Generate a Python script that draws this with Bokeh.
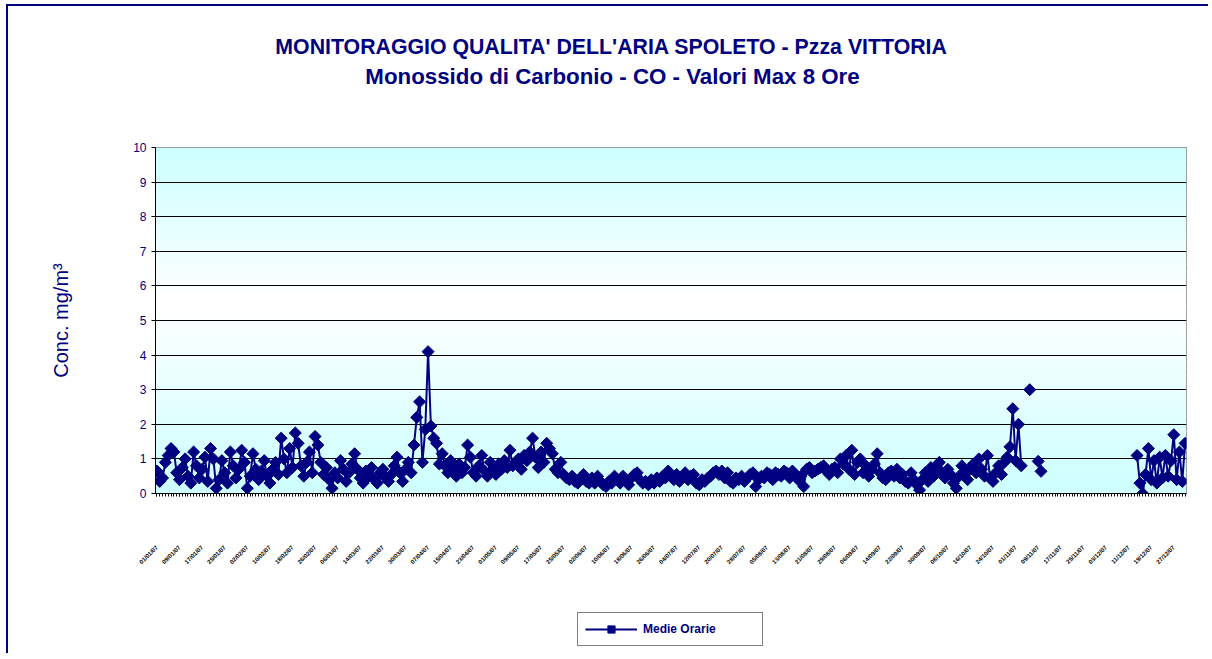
import math
import datetime
from bokeh.plotting import figure
from bokeh.layouts import column
from bokeh.models import (Range1d, FixedTicker, BoxAnnotation, Label, Legend,
                          LegendItem, ColumnDataSource)
from bokeh.embed import file_html
from bokeh.resources import INLINE

nan = float("nan")

# ---- data: daily max 8h CO (mg/m3) ----
co_max8h = [
    0.65, 0.35, 0.45, 0.9, 1.1, 1.3, 1.2, 0.6, 0.4, 0.75,
    1.0, 0.5, 0.3, 1.2, 0.8, 0.45, 0.7, 1.05, 0.35, 1.3,
    1.0, 0.15, 0.4, 0.95, 0.6, 0.3, 1.2, 0.8, 0.45, 0.7,
    1.25, 0.9, 0.15, 0.5, 1.15, 0.7, 0.4, 0.65, 0.95, 0.5,
    0.3, 0.7, 0.9, 0.55, 1.6, 1.0, 0.6, 1.3, 0.75, 1.75,
    1.45, 0.8, 0.5, 0.9, 1.2, 0.6, 1.65, 1.4, 0.9, 0.55,
    0.75, 0.4, 0.15, 0.6, 0.45, 0.95, 0.7, 0.35, 0.6, 0.85,
    1.15, 0.7, 0.45, 0.3, 0.65, 0.5, 0.75, 0.4, 0.3, 0.6,
    0.7, 0.45, 0.35, 0.55, 0.8, 1.05, 0.6, 0.35, 0.7, 0.9,
    0.6, 1.4, 2.2, 2.65, 0.9, 1.85, 4.1, 1.95, 1.6, 1.45,
    0.85, 1.15, 0.8, 0.6, 0.95, 0.7, 0.5, 0.85, 0.6, 0.75,
    1.4, 1.05, 0.6, 0.5, 0.8, 1.1, 0.65, 0.5, 0.9, 0.7,
    0.55, 0.85, 0.7, 0.95, 0.75, 1.25, 0.8, 0.9, 1.0, 0.7,
    1.1, 0.95, 1.2, 1.6, 1.05, 0.75, 1.2, 0.9, 1.45, 1.3,
    1.15, 0.7, 0.6, 0.9, 0.55, 0.45, 0.4, 0.5, 0.35, 0.3,
    0.4, 0.55, 0.35, 0.3, 0.45, 0.3, 0.5, 0.35, 0.25, 0.2,
    0.35, 0.3, 0.5, 0.4, 0.3, 0.5, 0.35, 0.25, 0.45, 0.55,
    0.6, 0.4, 0.3, 0.35, 0.25, 0.4, 0.3, 0.45, 0.35, 0.5,
    0.45, 0.65, 0.55, 0.4, 0.55, 0.35, 0.45, 0.6, 0.4, 0.5,
    0.55, 0.3, 0.25, 0.4, 0.35, 0.45, 0.5, 0.6, 0.65, 0.55,
    0.65, 0.45, 0.6, 0.35, 0.3, 0.45, 0.4, 0.5, 0.35, 0.45,
    0.55, 0.6, 0.2, 0.4, 0.5, 0.45, 0.6, 0.55, 0.4, 0.6,
    0.55, 0.5, 0.65, 0.6, 0.45, 0.65, 0.55, 0.4, 0.5, 0.2,
    0.7, 0.75, 0.6, 0.65, 0.7, 0.75, 0.8, 0.65, 0.55, 0.7,
    0.75, 0.6, 1.0, 0.85, 1.1, 0.7, 1.25, 0.55, 0.9, 1.0,
    0.6, 0.8, 0.5, 0.7, 0.85, 1.15, 0.6, 0.45, 0.4, 0.6,
    0.65, 0.5, 0.7, 0.45, 0.55, 0.35, 0.3, 0.6, 0.4, 0.25,
    0.1, 0.4, 0.6, 0.35, 0.75, 0.5, 0.8, 0.9, 0.6, 0.45,
    0.7, 0.55, 0.3, 0.15, 0.5, 0.8, 0.6, 0.4, 0.7, 0.85,
    0.6, 1.0, 0.7, 0.5, 1.1, 0.45, 0.35, 0.6, 0.8, 0.55,
    0.9, 1.05, 1.35, 2.45, 0.95, 2.0, 0.8, nan, nan, 3.0,
    nan, nan, 0.93, 0.64, nan, nan, nan, nan, nan, nan,
    nan, nan, nan, nan, nan, nan, nan, nan, nan, nan,
    nan, nan, nan, nan, nan, nan, nan, nan, nan, nan,
    nan, nan, nan, nan, nan, nan, nan,
    1.1, 0.3, 0.0, 0.55, 1.3, 0.4, 0.95, 0.3, 1.05, 0.45,
    1.1, 0.5, 0.95, 1.7, 0.4, 1.2, 0.35, 1.45,
]
N = len(co_max8h)

start_date = datetime.date(2007, 1, 1)
day_labels = [(start_date + datetime.timedelta(days=i)).strftime("%d/%m/%y") for i in range(N)]
label_every = 8
label_positions = list(range(0, N, label_every))
y_ticks = [0, 1, 2, 3, 4, 5, 6, 7, 8, 9, 10]

title_line1 = "MONITORAGGIO QUALITA' DELL'ARIA SPOLETO - Pzza VITTORIA"
title_line2 = "Monossido di Carbonio - CO - Valori Max 8 Ore"
y_label = "Conc. mg/m³"
series_name = "Medie Orarie"

NAVY = "#000080"
FONT = "Liberation Sans"
W = 1200
# the column aligns every strip's frame with the chart's plot area (page x 155..1186),
# so the strips use page pixels as their x coordinates
STRIP_X = Range1d(155, 1186)

# ---------------- title strip ----------------
TH = 131
pt = figure(width=W, height=TH, output_backend="svg", toolbar_location=None,
            x_range=Range1d(155, 1186), y_range=Range1d(0, TH),
            x_axis_location=None, y_axis_location=None,
            min_border_left=0, min_border_right=0, min_border_top=0, min_border_bottom=0)
pt.grid.visible = False
pt.outline_line_color = None
pt.background_fill_color = "white"
pt.border_fill_color = "white"
pt.add_layout(Label(x=611, y=TH - 40, text=title_line1, text_align="center",
                    text_baseline="middle", text_font=FONT, text_font_size="21.3px",
                    text_font_style="bold", text_color=NAVY))
pt.add_layout(Label(x=612, y=TH - 70, text=title_line2, text_align="center",
                    text_baseline="middle", text_font=FONT, text_font_size="22.3px",
                    text_font_style="bold", text_color=NAVY))

# ---------------- main chart ----------------
p = figure(frame_width=1031, frame_height=346, output_backend="svg", toolbar_location=None,
           x_range=Range1d(-0.5, N - 0.5), y_range=Range1d(0, 10),
           min_border_left=147, min_border_right=22, min_border_top=10,
           min_border_bottom=88)
p.border_fill_color = "white"
p.background_fill_color = "white"
p.outline_line_color = "#808080"
p.outline_line_width = 1
p.title.visible = False

# background gradient (cyan -> white -> cyan)
nb = 50
for k in range(nb):
    b = 10.0 * k / nb
    t_ = 10.0 * (k + 1) / nb
    mid = (b + t_) / 2
    if mid > 5.5:
        f = (mid - 5.5) / 4.5
    else:
        f = (5.5 - mid) / 5.5
    r = int(round(255 - 51 * f))
    col = "#%02x%02x%02x" % (r, 255, 255)
    p.add_layout(BoxAnnotation(bottom=b, top=min(10, t_ + 0.03), fill_color=col,
                               fill_alpha=1.0, line_alpha=0, level="image"))

p.xgrid.visible = False
p.ygrid.grid_line_color = "black"
p.ygrid.grid_line_width = 1

p.yaxis.ticker = FixedTicker(ticks=y_ticks)
p.yaxis.major_label_text_font = FONT
p.yaxis.major_label_text_font_size = "12px"
p.yaxis.major_label_text_color = NAVY
p.yaxis.axis_line_color = "black"
p.yaxis.major_tick_line_color = "black"
p.yaxis.major_tick_out = 4
p.yaxis.major_tick_in = 0
p.yaxis.minor_tick_line_color = None
p.yaxis.axis_label = y_label
p.yaxis.axis_label_text_font = FONT
p.yaxis.axis_label_text_font_size = "20px"
p.yaxis.axis_label_text_font_style = "normal"
p.yaxis.axis_label_text_color = NAVY
p.yaxis.axis_label_standoff = 58

p.xaxis.ticker = FixedTicker(ticks=label_positions, minor_ticks=list(range(N)))
p.xaxis.major_label_overrides = {i: day_labels[i] for i in label_positions}
p.xaxis.major_label_orientation = math.pi / 4
p.xaxis.major_label_text_font = FONT
p.xaxis.major_label_text_font_size = "6px"
p.xaxis.major_label_text_font_style = "bold"
p.xaxis.major_label_text_color = "black"
p.xaxis.major_label_standoff = 50
p.xaxis.axis_line_color = "black"
p.xaxis.major_tick_out = 3
p.xaxis.major_tick_in = 0
p.xaxis.minor_tick_out = 3
p.xaxis.minor_tick_in = 0
p.xaxis.major_tick_line_color = "black"
p.xaxis.minor_tick_line_color = "black"

src = ColumnDataSource(dict(x=list(range(N)), y=co_max8h))
p.line("x", "y", source=src, line_color=NAVY, line_width=2)
p.scatter("x", "y", source=src, marker="square", angle=math.pi / 4, size=8.5,
          fill_color=NAVY, line_color=NAVY)

# ---------------- legend strip ----------------
LH = 72
pl = figure(width=W, height=LH, output_backend="svg", toolbar_location=None,
            x_range=Range1d(155, 1186), y_range=Range1d(0, 1),
            x_axis_location=None, y_axis_location=None,
            min_border_left=0, min_border_right=0, min_border_top=0, min_border_bottom=0)
pl.grid.visible = False
pl.outline_line_color = None
pl.background_fill_color = "white"
pl.border_fill_color = "white"
# key renderers share the series style; their single point (day 0) lies outside
# this strip's x range, so only the legend swatch is visible
key_src = ColumnDataSource(dict(x=[0], y=[co_max8h[0]]))
key_line = pl.line("x", "y", source=key_src, line_color=NAVY, line_width=2)
key_mark = pl.scatter("x", "y", source=key_src, marker="square", angle=math.pi / 4,
                      size=8.5, fill_color=NAVY, line_color=NAVY)
legend = Legend(items=[LegendItem(label=series_name, renderers=[key_line, key_mark])],
                location=(422, 7), orientation="horizontal")
legend.glyph_width = 52
legend.glyph_height = 18
legend.label_standoff = 6
legend.label_width = 112
legend.padding = 7
legend.margin = 0
legend.label_text_font = FONT
legend.label_text_font_size = "12px"
legend.label_text_font_style = "bold"
legend.label_text_color = NAVY
legend.border_line_color = "black"
legend.border_line_width = 1
legend.background_fill_color = "white"
legend.background_fill_alpha = 1
pl.add_layout(legend, "center")

page = column(pt, p, pl, spacing=0)
page.styles = {"border-left": "2px solid #000080", "border-top": "2px solid #000080",
               "margin-left": "6px", "margin-top": "4px"}

open("out.html", "w").write(file_html(page, INLINE))
